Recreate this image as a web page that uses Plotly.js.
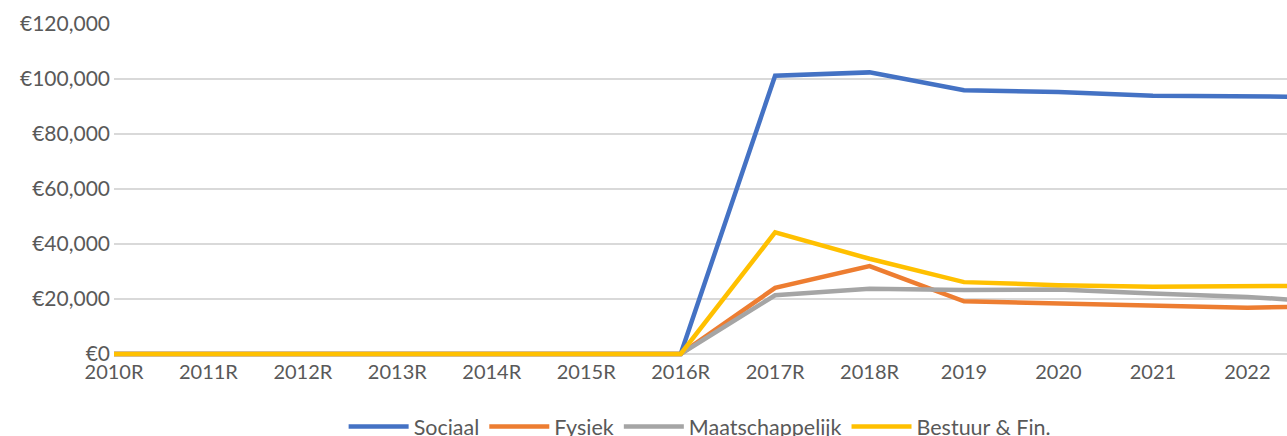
<!DOCTYPE html>
<html>
<head>
<meta charset="utf-8">
<script src="https://cdn.plot.ly/plotly-3.0.1.min.js"></script>
<style>html,body{margin:0;padding:0;background:#fff;}#chart{width:1287px;height:436px;}</style>
</head>
<body>
<div id="chart"></div>
<script>
const categories = ['2010R','2011R','2012R','2013R','2014R','2015R','2016R','2017R','2018R','2019','2020','2021','2022','2023'];
const sociaal = [0,0,0,0,0,0,0,101200,102400,95900,95300,93900,93700,93450];
const fysiek = [0,0,0,0,0,0,0,24000,31900,19100,18300,17800,16800,17500];
const maatschappelijk = [0,0,0,0,0,0,0,21300,23700,23200,23400,22000,20700,18600];
const bestuur = [0,0,0,0,0,0,0,44200,34600,26100,25000,24400,24600,24850];
const seriesNames = ['Sociaal','Fysiek','Maatschappelijk','Bestuur & Fin.'];
const seriesColors = ['#4472C4','#ED7D31','#A5A5A5','#FFC000'];
const seriesValues = [sociaal, fysiek, maatschappelijk, bestuur];
const yTickValues = [0,20000,40000,60000,80000,100000,120000];
const yTickLabels = ['€0','€20,000','€40,000','€60,000','€80,000','€100,000','€120,000'];

const traces = seriesValues.map((v, i) => ({
  type: 'scatter', mode: 'lines', x: categories, y: v, name: seriesNames[i],
  line: {color: seriesColors[i], width: 4.5, shape: 'linear'},
  hoverinfo: 'skip'
}));

const fam = 'Lato, "Open Sans", sans-serif';
const layout = {
  width: 1287, height: 436,
  margin: {l: 114, r: 0, t: 24, b: 78, pad: 0, autoexpand: false},
  paper_bgcolor: '#fff', plot_bgcolor: '#fff',
  font: {family: fam, size: 20, color: '#595959'},
  showlegend: true,
  legend: {orientation: 'h', x: 0.544, xanchor: 'center', xref: 'container',
           y: 0.022, yanchor: 'middle', yref: 'container',
           font: {family: fam, size: 21.5, color: '#595959'}, itemwidth: 60, traceorder: 'normal'},
  xaxis: {type: 'category', range: [0, 12.42], showgrid: false, zeroline: false, automargin: false,
          showline: false, ticks: '', tickfont: {family: fam, size: 20, color: '#595959'}, fixedrange: true},
  yaxis: {range: [-1500, 120000], tickvals: yTickValues, ticktext: yTickLabels, automargin: false,
          showgrid: true, gridcolor: '#d9d9d9', gridwidth: 1.5,
          zeroline: false, showline: false, ticks: '', tickfont: {family: fam, size: 21, color: '#595959'},
          ticklabelstandoff: 3, fixedrange: true}
};
Plotly.newPlot('chart', traces, layout, {displayModeBar: false, staticPlot: true});
</script>
</body>
</html>
